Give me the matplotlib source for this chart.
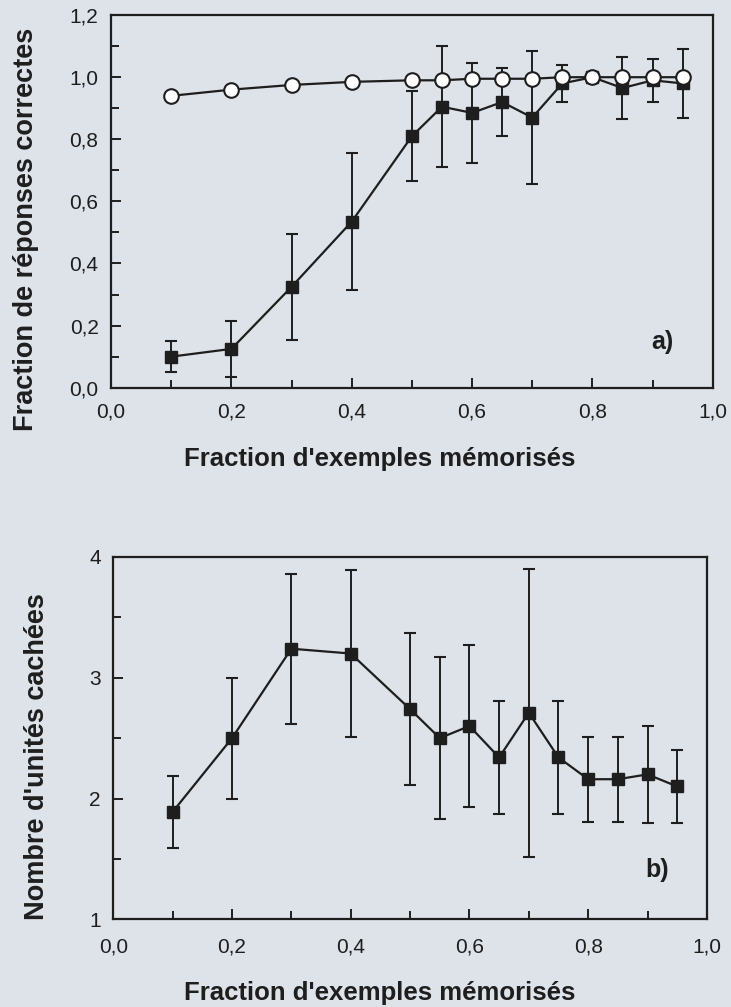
import numpy as np
import matplotlib
matplotlib.use("Agg")
from matplotlib import pyplot as plt
from matplotlib.ticker import MultipleLocator, FuncFormatter

plt.rcParams['font.family'] = ['Liberation Sans', 'DejaVu Sans']

# fraction d'exemples mémorisés
x = [0.1, 0.2, 0.3, 0.4, 0.5, 0.55, 0.6, 0.65, 0.7, 0.75, 0.8, 0.85, 0.9, 0.95]

# a) fraction de réponses correctes
rep_apprent = [0.94, 0.96, 0.975, 0.985, 0.99, 0.99, 0.995, 0.995, 0.995, 1.0, 1.0, 1.0, 1.0, 1.0]
rep_generalis = [0.10, 0.125, 0.325, 0.535, 0.81, 0.905, 0.885, 0.92, 0.87, 0.98, 1.0, 0.965, 0.99, 0.98]
rep_generalis_err = [0.05, 0.09, 0.17, 0.22, 0.145, 0.195, 0.16, 0.11, 0.215, 0.06, 0.01, 0.10, 0.07, 0.11]

# b) nombre d'unités cachées
unites = [1.89, 2.5, 3.24, 3.2, 2.74, 2.5, 2.6, 2.34, 2.71, 2.34, 2.16, 2.16, 2.2, 2.1]
unites_err = [0.3, 0.5, 0.62, 0.69, 0.63, 0.67, 0.67, 0.47, 1.19, 0.47, 0.35, 0.35, 0.40, 0.30]

bg = '#dee2e9'
ink = '#1e1e1e'

fig = plt.figure(figsize=(7.31, 10.07), dpi=100, facecolor=bg)
ax1 = fig.add_axes([0.152, 0.615, 0.823, 0.370])
ax2 = fig.add_axes([0.155, 0.087, 0.812, 0.360])

comma = FuncFormatter(lambda v, p: ('%.1f' % v).replace('.', ','))


def style(ax, pad_x):
    ax.set_facecolor(bg)
    for s in ax.spines.values():
        s.set_linewidth(1.6)
        s.set_color(ink)
    ax.tick_params(which='both', direction='in', top=False, right=False,
                   colors=ink, labelsize=15, width=1.4)
    ax.tick_params(axis='y', pad=9)
    ax.tick_params(axis='x', pad=pad_x)
    ax.tick_params(which='major', length=7)
    ax.tick_params(which='minor', length=5.5)
    ax.set_xlim(0, 1.0)
    ax.xaxis.set_major_locator(MultipleLocator(0.2))
    ax.xaxis.set_minor_locator(MultipleLocator(0.1))
    ax.xaxis.set_major_formatter(comma)


lab = dict(fontsize=18.5, fontweight='bold', color=ink)
ylab = dict(fontsize=19.5, fontweight='bold', color=ink)

style(ax1, 11)
ax1.set_ylim(0, 1.2)
ax1.yaxis.set_major_locator(MultipleLocator(0.2))
ax1.yaxis.set_minor_locator(MultipleLocator(0.1))
ax1.yaxis.set_major_formatter(comma)
ax1.errorbar(x, rep_generalis, yerr=rep_generalis_err, color=ink, lw=1.6,
             marker='s', ms=8, mfc=ink, mec=ink, capsize=4.5, capthick=1.5,
             elinewidth=1.4, zorder=2)
ax1.plot(x, rep_apprent, color=ink, lw=1.6, marker='o', ms=10.5, mfc='white',
         mec=ink, mew=1.5, zorder=3)
ax1.text(0.917, 0.123, 'a)', transform=ax1.transAxes, fontsize=18,
         fontweight='bold', ha='center', va='center', color=ink)

style(ax2, 13)
ax2.set_ylim(1, 4)
ax2.yaxis.set_major_locator(MultipleLocator(1))
ax2.yaxis.set_minor_locator(MultipleLocator(0.5))
ax2.errorbar(x, unites, yerr=unites_err, color=ink, lw=1.6,
             marker='s', ms=8.5, mfc=ink, mec=ink, capsize=4.5, capthick=1.5,
             elinewidth=1.4)
ax2.text(0.916, 0.135, 'b)', transform=ax2.transAxes, fontsize=18,
         fontweight='bold', ha='center', va='center', color=ink)

# axis titles placed as on the scanned page
fig.text(0.036, 0.772, "Fraction de réponses correctes", rotation=90,
         ha='center', va='center', **ylab)
fig.text(0.050, 0.249, "Nombre d'unités cachées", rotation=90,
         ha='center', va='center', **ylab)
fig.text(0.52, 0.537, "Fraction d'exemples mémorisés", ha='center',
         va='baseline', **lab)
fig.text(0.52, 0.007, "Fraction d'exemples mémorisés", ha='center',
         va='baseline', **lab)

fig.savefig('out.png', dpi=100, facecolor=bg)
